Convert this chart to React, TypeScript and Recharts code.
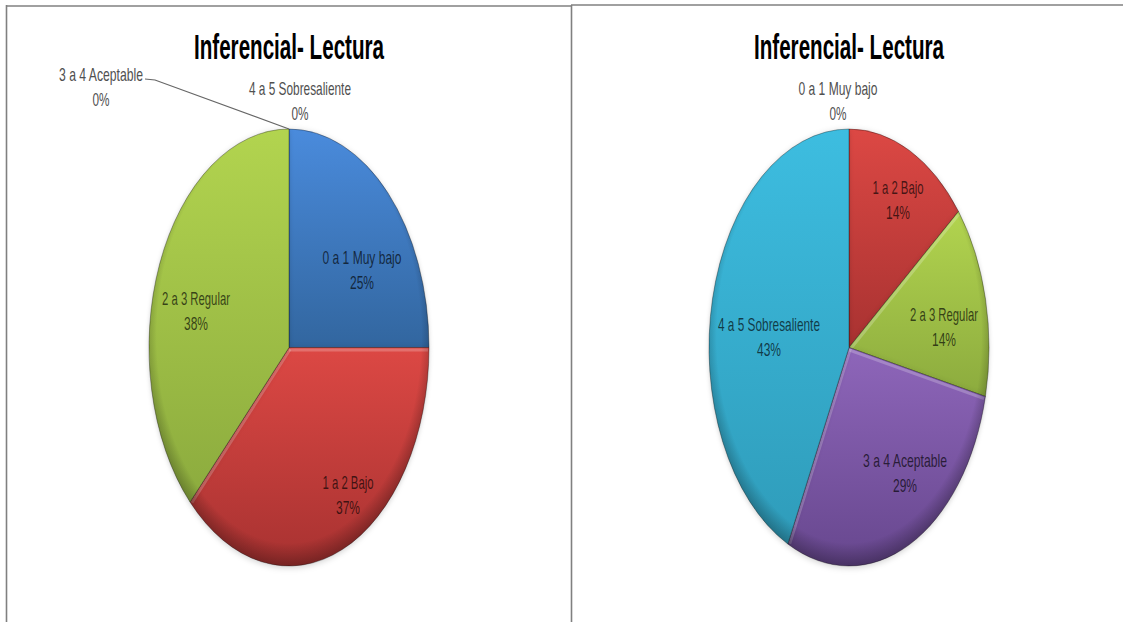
import React from "react";
import { PieChart, Pie, Sector } from "recharts";

const categories = ["0 a 1 Muy bajo", "1 a 2 Bajo", "2 a 3 Regular", "3 a 4 Aceptable", "4 a 5 Sobresaliente"];
const leftValues = [25, 37.5, 37.5, 0, 0];
const rightValues = [0, 14.3, 14.3, 28.6, 42.8];
const leftPercents = ["25%", "37%", "38%", "0%", "0%"];
const rightPercents = ["0%", "14%", "14%", "29%", "43%"];
const title = "Inferencial- Lectura";

// gradient stops per category: top colour, bottom colour
const sliceColors = [
  ["#4a8bdc", "#32669f"],
  ["#dc4844", "#a83231"],
  ["#b2d44f", "#8cab3e"],
  ["#8e66ba", "#67478e"],
  ["#3dbde0", "#2f9cba"],
];

// label anchor per slice, same order as categories
const leftSpots = [[362, 257], [348, 482], [196, 298], [101, 74], [300, 88]];
const rightSpots = [[838, 88], [898, 187], [944, 314], [905, 460], [769, 324]];
const labelWidths = [79, 51, 68, 84, 102];

const RX = 140;
const RY = 218.5;
const LEFT_CX = 289;
const RIGHT_CX = 849;
const CY = 347.5;
const RAD = Math.PI / 180;

const toRows = (values: number[]) =>
  categories.map((name, i) => ({ name, value: values[i], fill: `url(#slice${i})` }));

const leftData = toRows(leftValues);
const rightData = toRows(rightValues);

// light bevel along a slice edge, only when the edge faces upward
const EdgeGlow = ({ cx, cy, r, angle, side }: any) => {
  const dx = Math.cos(angle * RAD);
  const dy = -Math.sin(angle * RAD);
  // inward normal: side = 1 for the start edge, -1 for the end edge (slices run clockwise)
  const nx = -dy * side;
  const ny = dx * side;
  if (ny <= 0.02) return null;
  const off = 1.6;
  return (
    <line
      x1={cx + nx * off}
      y1={cy + ny * off}
      x2={cx + dx * (r - 1) + nx * off}
      y2={cy + dy * (r - 1) + ny * off}
      stroke="#fff"
      strokeOpacity={0.22}
      strokeWidth={3}
      vectorEffect="non-scaling-stroke"
    />
  );
};

// the source pie is squashed, so stretch each slice vertically around the centre
const EllipseSlice = (props: any) => {
  const { cx, cy, startAngle, endAngle, outerRadius } = props;
  const k = RY / RX;
  const t = `translate(${cx} ${cy}) scale(1 ${k}) translate(${-cx} ${-cy})`;
  const rim = cx === LEFT_CX ? "url(#rimLeft)" : "url(#rimRight)";
  return (
    <g transform={t} style={{ filter: "drop-shadow(0 1px 2px rgba(0,0,0,0.18))" }}>
      <Sector {...props} stroke="none" />
      <EdgeGlow cx={cx} cy={cy} r={outerRadius} angle={startAngle} side={1} />
      <EdgeGlow cx={cx} cy={cy} r={outerRadius} angle={endAngle} side={-1} />
      <Sector {...props} fill={rim} stroke="#000" strokeOpacity={0.32} strokeWidth={1} vectorEffect="non-scaling-stroke" />
    </g>
  );
};

const makeLabel = (spots: number[][], percents: string[]) => (props: any) => {
  const { index, value } = props;
  const [x, y] = spots[index];
  const outside = value === 0;
  const common = {
    textAnchor: "middle" as const,
    dominantBaseline: "central" as const,
    fontFamily: "'Liberation Sans Narrow', 'Liberation Sans', sans-serif",
    fontSize: 19,
    fill: outside ? "#505050" : "#000",
    fillOpacity: outside ? 1 : 0.68,
    lengthAdjust: "spacingAndGlyphs" as const,
  };
  return (
    <g>
      <text x={x} y={y} textLength={labelWidths[index]} {...common}>{categories[index]}</text>
      <text x={x} y={y + 25} textLength={outside ? 17 : 24} {...common}>{percents[index]}</text>
    </g>
  );
};

const leftLine = (props: any) => {
  if (props.index !== 3) return <g />;
  return <polyline points={`145,79 155,80 ${LEFT_CX},${CY - RY}`} fill="none" stroke="#666" strokeWidth={1.2} />;
};

const Title = ({ x }: { x: number }) => (
  <text
    x={x}
    y={46}
    textAnchor="middle"
    dominantBaseline="central"
    fontFamily="'Liberation Sans Narrow', 'Liberation Sans', sans-serif"
    fontWeight="bold"
    fontSize={35}
    textLength={190}
    lengthAdjust="spacingAndGlyphs"
    fill="#000"
  >
    {title}
  </text>
);

const RimGradient = ({ id, cx }: { id: string; cx: number }) => (
  <radialGradient id={id} gradientUnits="userSpaceOnUse" cx={cx} cy={CY - 7} r={RX + 7}>
    <stop offset="90%" stopColor="#000" stopOpacity={0} />
    <stop offset="100%" stopColor="#000" stopOpacity={0.3} />
  </radialGradient>
);

export default function App() {
  return (
    <div style={{ position: "absolute", left: 0, top: 0, width: 1123, height: 622, background: "#fff", overflow: "hidden" }}>
      <PieChart width={1123} height={622} margin={{ top: 0, right: 0, bottom: 0, left: 0 }}>
        <defs>
          {sliceColors.map(([a, b], i) => (
            <linearGradient key={i} id={`slice${i}`} x1="0" y1="0" x2="0" y2="1">
              <stop offset="0%" stopColor={a} />
              <stop offset="100%" stopColor={b} />
            </linearGradient>
          ))}
          <RimGradient id="rimLeft" cx={LEFT_CX} />
          <RimGradient id="rimRight" cx={RIGHT_CX} />
        </defs>
        <line x1={6} y1={6} x2={571} y2={6} stroke="#808080" strokeWidth={1.6} />
        <line x1={571} y1={5} x2={1123} y2={5} stroke="#808080" strokeWidth={1.6} />
        <line x1={6.5} y1={5} x2={6.5} y2={622} stroke="#808080" strokeWidth={1.6} />
        <line x1={571.5} y1={5} x2={571.5} y2={622} stroke="#808080" strokeWidth={1.6} />
        <Title x={289} />
        <Title x={849} />
        <Pie
          data={leftData}
          dataKey="value"
          nameKey="name"
          cx={LEFT_CX}
          cy={CY}
          outerRadius={RX}
          startAngle={90}
          endAngle={-270}
          shape={EllipseSlice}
          label={makeLabel(leftSpots, leftPercents)}
          labelLine={leftLine}
          isAnimationActive={false}
        />
        <Pie
          data={rightData}
          dataKey="value"
          nameKey="name"
          cx={RIGHT_CX}
          cy={CY}
          outerRadius={RX}
          startAngle={90}
          endAngle={-270}
          shape={EllipseSlice}
          label={makeLabel(rightSpots, rightPercents)}
          labelLine={false}
          isAnimationActive={false}
        />
      </PieChart>
    </div>
  );
}
